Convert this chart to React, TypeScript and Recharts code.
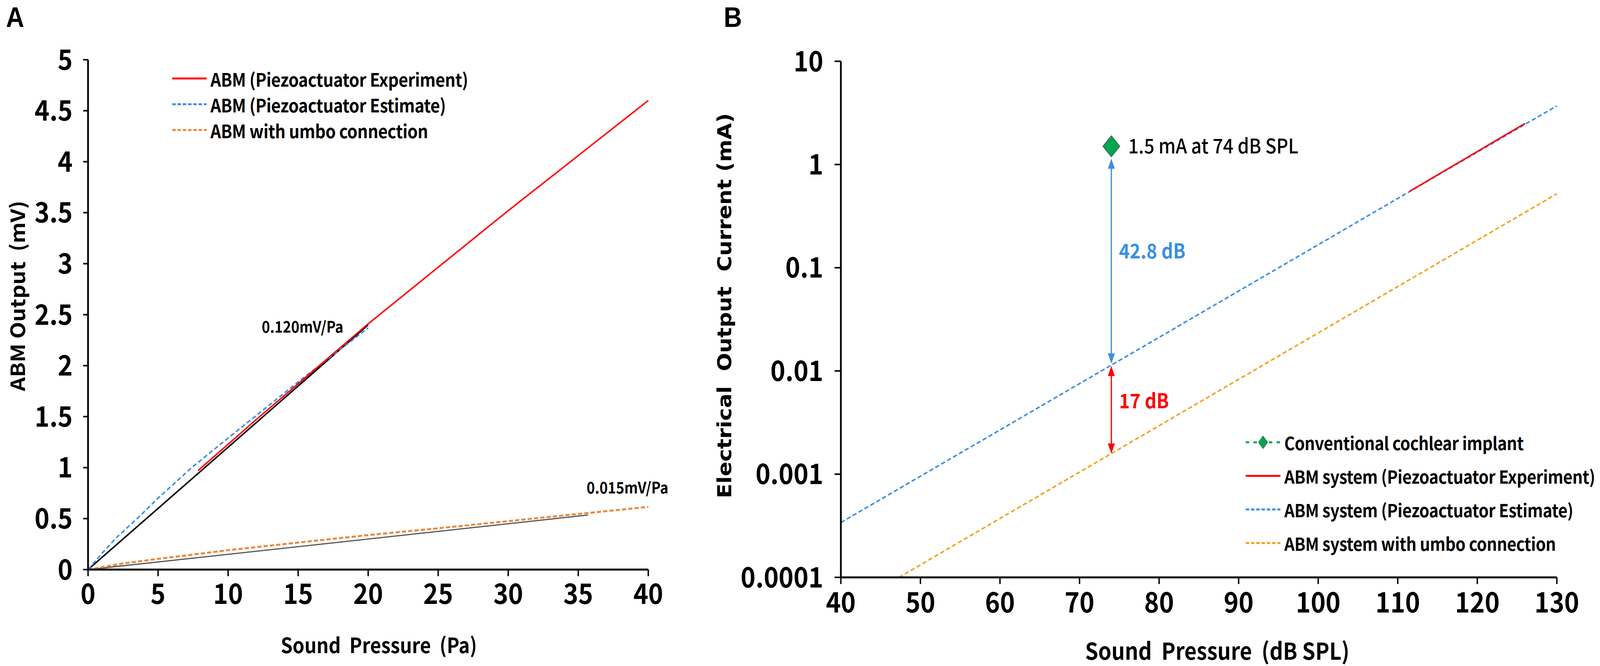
import React from "react";
import {
  LineChart,
  Line,
  XAxis,
  YAxis,
  Legend,
  ReferenceLine,
  ReferenceDot,
} from "recharts";

const FONT = '"Noto Sans CJK KR", "Noto Sans", sans-serif';
const LETTER_FONT = '"Liberation Sans", Arial, sans-serif';
const B_TITLE_FONT = '"DejaVu Sans", Verdana, sans-serif';

const RED = "#ff0000";
const BLUE = "#3a8ee6";
const ORANGE_A = "#e8873c";
const ORANGE_B = "#f4a020";
const GREEN = "#00a651";

// ---- panel A : ABM output vs sound pressure ----
const paTicks = [0, 5, 10, 15, 20, 25, 30, 35, 40];
const mvTicks = [0, 0.5, 1, 1.5, 2, 2.5, 3, 3.5, 4, 4.5, 5];

const abmExperiment = [
  { x: 7.85, y: 0.97 },
  { x: 12, y: 1.47 },
  { x: 20, y: 2.41 },
  { x: 30, y: 3.52 },
  { x: 40, y: 4.6 },
];
const abmEstimate = [
  { x: 0, y: 0 },
  { x: 1, y: 0.16 },
  { x: 2, y: 0.31 },
  { x: 3.5, y: 0.5 },
  { x: 5, y: 0.7 },
  { x: 7.4, y: 1.0 },
  { x: 10, y: 1.29 },
  { x: 15, y: 1.84 },
  { x: 20, y: 2.37 },
];
const abmUmbo = [
  { x: 0, y: 0 },
  { x: 2.5, y: 0.06 },
  { x: 5, y: 0.105 },
  { x: 10, y: 0.19 },
  { x: 15, y: 0.265 },
  { x: 20, y: 0.338 },
  { x: 25, y: 0.405 },
  { x: 30, y: 0.475 },
  { x: 35, y: 0.545 },
  { x: 40, y: 0.615 },
];
const fitEstimate = [
  { x: 0, y: 0 },
  { x: 20, y: 2.4 },
];
const fitUmbo = [
  { x: 0, y: 0 },
  { x: 35.7, y: 0.535 },
];
const slopeNotes = [
  { x: 12.4, y: 2.38, text: "0.120mV/Pa" },
  { x: 35.6, y: 0.8, text: "0.015mV/Pa" },
];

// ---- panel B : electrical output current vs SPL ----
const splTicks = [40, 50, 60, 70, 80, 90, 100, 110, 120, 130];
const maTicks = [0.0001, 0.001, 0.01, 0.1, 1, 10];

const conventional = [{ x: 74, y: 1.5 }];
const sysExperiment = [
  { x: 111.5, y: 0.55 },
  { x: 126, y: 2.5 },
];
const sysEstimate = [
  { x: 40, y: 0.00034 },
  { x: 130, y: 3.7 },
];
const sysUmbo = [
  { x: 47.3, y: 0.0001 },
  { x: 130, y: 0.52 },
];
const gapArrows = [
  { x: 74, top: 1.14, bottom: 0.0118, label: "42.8 dB", labelY: 0.145, color: BLUE },
  { x: 74, top: 0.0112, bottom: 0.00158, label: "17 dB", labelY: 0.0051, color: RED },
];

const legendA = [
  { name: "ABM (Piezoactuator Experiment)", color: RED, dash: "" },
  { name: "ABM (Piezoactuator Estimate)", color: BLUE, dash: "10 5" },
  { name: "ABM with umbo connection", color: ORANGE_A, dash: "10 5" },
];
const legendB = [
  { name: "Conventional cochlear implant", color: GREEN, dash: "10 12", marker: true },
  { name: "ABM system (Piezoactuator Experiment)", color: RED, dash: "" },
  { name: "ABM system (Piezoactuator Estimate)", color: BLUE, dash: "10 5" },
  { name: "ABM system with umbo connection", color: ORANGE_B, dash: "10 5" },
];

// figure size and plot geometry (chart-local pixels)
const FIG_W = 4561;
const FIG_H = 1706;
const A = { w: 1950, h: 1706, left: 251, top: 153, right: 1848, bottom: 1459 };
const B = { x0: 1950, w: 2611, h: 1706, left: 447, top: 157, right: 2488, bottom: 1479 };

const tickStyle = { fill: "#000", fontSize: 72, fontWeight: 700, fontFamily: FONT };
const axisLine = { stroke: "#000", strokeWidth: 5 };
const tickLine = { stroke: "#000", strokeWidth: 4 };

function LegendBox({ items, rowH, sampleW, fontSize }: { items: any[]; rowH: number; sampleW: number; fontSize: number }) {
  return (
    <div style={{ fontFamily: FONT, fontWeight: 700, fontSize, color: "#000", letterSpacing: -0.5 }}>
      {items.map((it) => (
        <div key={it.name} style={{ display: "flex", alignItems: "center", height: rowH, whiteSpace: "nowrap" }}>
          <svg width={sampleW} height={40} style={{ marginRight: 11, flex: "none" }}>
            <line
              x1={0}
              y1={20}
              x2={sampleW}
              y2={20}
              stroke={it.color}
              strokeWidth={5}
              strokeDasharray={it.dash || undefined}
            />
            {it.marker && (
              <polygon
                points={`${sampleW / 2},4 ${sampleW / 2 + 13},20 ${sampleW / 2},36 ${sampleW / 2 - 13},20`}
                fill={GREEN}
                stroke="#2b6b45"
                strokeWidth={1.5}
              />
            )}
          </svg>
          <span>{it.name}</span>
        </div>
      ))}
    </div>
  );
}

function DiamondDot(props: any) {
  const { cx, cy } = props;
  if (cx == null || cy == null) return <g />;
  const hw = 24;
  const hh = 27;
  return (
    <polygon
      points={`${cx},${cy - hh} ${cx + hw},${cy} ${cx},${cy + hh} ${cx - hw},${cy}`}
      fill={GREEN}
      stroke="#4a5a50"
      strokeWidth={2}
    />
  );
}

function makeArrow(color: string) {
  return (p: any) => {
    const x = p.x1;
    const yTop = Math.min(p.y1, p.y2);
    const yBot = Math.max(p.y1, p.y2);
    const hl = 26;
    const hw = 10;
    return (
      <g>
        <line x1={x} y1={yTop + hl - 2} x2={x} y2={yBot - hl + 2} stroke={color} strokeWidth={3.5} />
        <polygon points={`${x},${yTop} ${x - hw},${yTop + hl} ${x + hw},${yTop + hl}`} fill={color} />
        <polygon points={`${x},${yBot} ${x - hw},${yBot - hl} ${x + hw},${yBot - hl}`} fill={color} />
      </g>
    );
  };
}

function PanelA() {
  const midY = 758;
  return (
    <LineChart
      width={A.w}
      height={A.h}
      margin={{ top: A.top, right: A.w - A.right, bottom: A.h - A.bottom - 100, left: A.left - 150 }}
    >
      <XAxis
        type="number"
        dataKey="x"
        domain={[0, 40]}
        ticks={paTicks}
        height={100}
        tick={tickStyle}
        axisLine={axisLine}
        tickLine={tickLine}
        tickSize={17}
        tickMargin={20}
        label={() => (
          <text
            x={1080}
            y={A.bottom + 190}
            textAnchor="middle"
            dominantBaseline="central"
            fontFamily={FONT}
            fontWeight={700}
            fontSize={54}
            fill="#000"
            style={{ whiteSpace: "pre" }}
          >
            {"Sound  Pressure  (Pa)"}
          </text>
        )}
      />
      <YAxis
        type="number"
        dataKey="y"
        domain={[0, 5]}
        ticks={mvTicks}
        width={150}
        tick={tickStyle}
        axisLine={axisLine}
        tickLine={tickLine}
        tickSize={14}
        tickMargin={30}
        label={() => (
          <text
            x={46}
            y={midY}
            transform={`rotate(-90, 46, ${midY})`}
            textAnchor="middle"
            dominantBaseline="central"
            fontFamily={FONT}
            fontWeight={700}
            fontSize={56}
            fill="#000"
            style={{ whiteSpace: "pre" }}
          >
            {"ABM Output  (mV)"}
          </text>
        )}
      />
      <Line data={fitEstimate} dataKey="y" stroke="#000" strokeWidth={4} dot={false} activeDot={false} isAnimationActive={false} />
      <Line data={fitUmbo} dataKey="y" stroke="#555" strokeWidth={3} dot={false} activeDot={false} isAnimationActive={false} />
      <Line data={abmUmbo} dataKey="y" stroke={ORANGE_A} strokeWidth={5} strokeDasharray="12 6" dot={false} activeDot={false} isAnimationActive={false} />
      <Line data={abmEstimate} dataKey="y" stroke={BLUE} strokeWidth={4} strokeDasharray="12 7" dot={false} activeDot={false} isAnimationActive={false} />
      <Line data={abmExperiment} dataKey="y" stroke={RED} strokeWidth={4} dot={false} activeDot={false} isAnimationActive={false} />
      {slopeNotes.map((n) => (
        <ReferenceDot
          key={n.text}
          x={n.x}
          y={n.y}
          r={0}
          fill="none"
          stroke="none"
          label={{
            value: n.text,
            position: "right",
            offset: 0,
            fill: "#000",
            fontSize: 40,
            fontWeight: 700,
            fontFamily: FONT,
          }}
        />
      ))}
      <Legend
        layout="vertical"
        align="center"
        verticalAlign="middle"
        wrapperStyle={{ left: 491, top: 168, width: 1000 }}
        content={() => <LegendBox items={legendA} rowH={66} sampleW={98} fontSize={47} />}
      />
    </LineChart>
  );
}

function PanelB() {
  const midY = 783;
  return (
    <LineChart
      width={B.w}
      height={B.h}
      margin={{ top: B.top, right: B.w - B.right, bottom: B.h - B.bottom - 100, left: B.left - 200 }}
    >
      <XAxis
        type="number"
        dataKey="x"
        domain={[40, 130]}
        ticks={splTicks}
        height={100}
        tick={tickStyle}
        axisLine={axisLine}
        tickLine={tickLine}
        tickSize={17}
        tickMargin={22}
        label={() => (
          <text
            x={3470 - B.x0}
            y={B.bottom + 185}
            textAnchor="middle"
            dominantBaseline="central"
            fontFamily={FONT}
            fontWeight={700}
            fontSize={60}
            fill="#000"
            style={{ whiteSpace: "pre" }}
          >
            {"Sound  Pressure  (dB SPL)"}
          </text>
        )}
      />
      <YAxis
        type="number"
        dataKey="y"
        scale="log"
        domain={[0.0001, 10]}
        allowDataOverflow
        ticks={maTicks}
        tickFormatter={(v: number) => String(v)}
        width={200}
        tick={tickStyle}
        axisLine={axisLine}
        tickLine={tickLine}
        tickSize={18}
        tickMargin={32}
        label={() => (
          <text
            x={115}
            y={midY}
            transform={`rotate(-90, 115, ${midY})`}
            textAnchor="middle"
            dominantBaseline="central"
            fontFamily={B_TITLE_FONT}
            fontWeight={700}
            fontSize={55}
            fill="#000"
            style={{ whiteSpace: "pre" }}
          >
            {"Electrical  Output  Current (mA)"}
          </text>
        )}
      />
      <Line data={sysUmbo} dataKey="y" stroke={ORANGE_B} strokeWidth={4} strokeDasharray="12 7" dot={false} activeDot={false} isAnimationActive={false} />
      <Line data={sysEstimate} dataKey="y" stroke={BLUE} strokeWidth={4} strokeDasharray="12 7" dot={false} activeDot={false} isAnimationActive={false} />
      <Line data={sysExperiment} dataKey="y" stroke={RED} strokeWidth={4} dot={false} activeDot={false} isAnimationActive={false} />
      {gapArrows.map((g) => (
        <ReferenceLine
          key={g.label}
          segment={[
            { x: g.x, y: g.top },
            { x: g.x, y: g.bottom },
          ]}
          stroke={g.color}
          shape={makeArrow(g.color)}
        />
      ))}
      {gapArrows.map((g) => (
        <ReferenceDot
          key={`t-${g.label}`}
          x={g.x}
          y={g.labelY}
          r={0}
          fill="none"
          stroke="none"
          label={{
            value: g.label,
            position: "right",
            offset: 22,
            fill: g.color,
            fontSize: 52,
            fontWeight: 700,
            fontFamily: FONT,
          }}
        />
      ))}
      <Line
        data={conventional}
        dataKey="y"
        stroke={GREEN}
        strokeDasharray="10 12"
        dot={DiamondDot}
        activeDot={false}
        isAnimationActive={false}
      />
      <ReferenceDot
        x={conventional[0].x}
        y={conventional[0].y}
        r={0}
        fill="none"
        stroke="none"
        label={{
          value: "1.5 mA at 74 dB SPL",
          position: "right",
          offset: 48,
          fill: "#000",
          fontSize: 52,
          fontWeight: 500,
          fontFamily: FONT,
        }}
      />
      <Legend
        layout="vertical"
        align="center"
        verticalAlign="middle"
        wrapperStyle={{ left: 3551 - B.x0, top: 1090, width: 1000 }}
        content={() => <LegendBox items={legendB} rowH={86} sampleW={99} fontSize={46} />}
      />
    </LineChart>
  );
}

export default function App() {
  // fit the fixed-size figure into whatever viewport the page actually gets
  const vw = typeof window !== "undefined" ? window.innerWidth : FIG_W;
  const vh = typeof window !== "undefined" ? window.innerHeight : FIG_H;
  const sx = Math.min(1, vw / FIG_W);
  const sy = Math.min(1, vh / FIG_H);

  const letter = (left: number): React.CSSProperties => ({
    position: "absolute",
    left,
    top: 8,
    fontFamily: LETTER_FONT,
    fontWeight: 700,
    fontSize: 72,
    lineHeight: 1,
    color: "#000",
    zIndex: 2,
  });
  return (
    <div style={{ position: "fixed", left: 0, top: 0, width: "100vw", height: "100vh", overflow: "hidden", background: "#fff" }}>
      <div
        style={{
          position: "absolute",
          left: 0,
          top: 0,
          width: FIG_W,
          height: FIG_H,
          background: "#fff",
          transform: `scale(${sx}, ${sy})`,
          transformOrigin: "0 0",
        }}
      >
        <div style={{ position: "absolute", left: 0, top: 0 }}>
          <PanelA />
        </div>
        <div style={{ position: "absolute", left: B.x0, top: 0 }}>
          <PanelB />
        </div>
        <div style={letter(17)}>A</div>
        <div style={letter(2063)}>B</div>
      </div>
    </div>
  );
}
